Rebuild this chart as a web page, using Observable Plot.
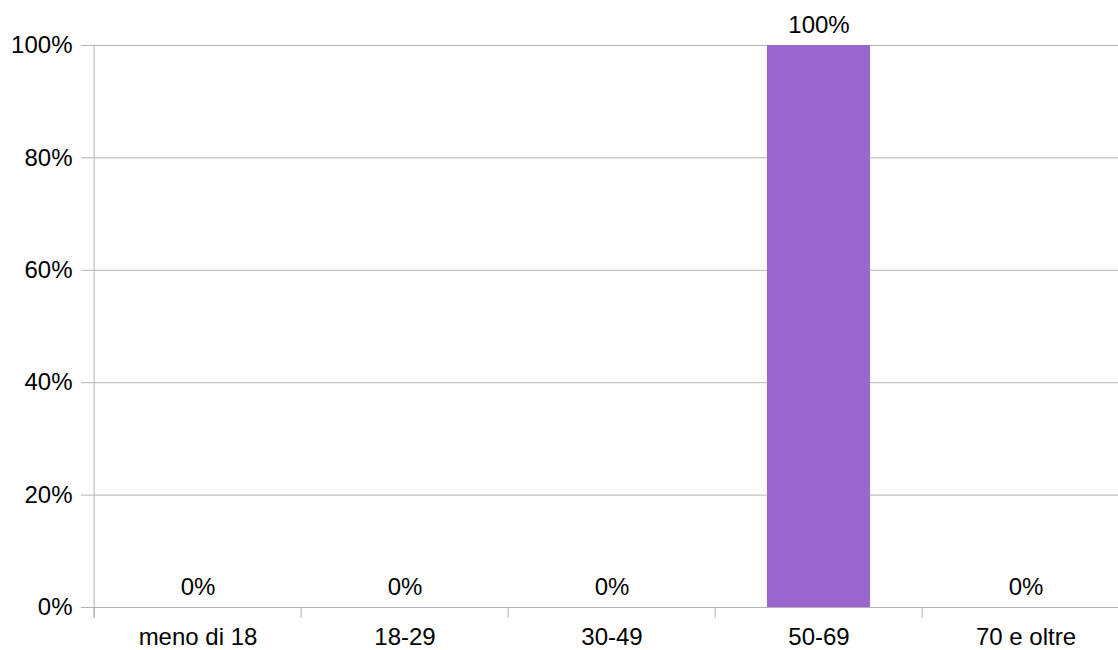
<!DOCTYPE html>
<html>
<head>
<meta charset="utf-8">
<script src="https://cdn.jsdelivr.net/npm/d3@7"></script>
<script src="https://cdn.jsdelivr.net/npm/@observablehq/plot@0.6"></script>
<style>
  html, body { margin: 0; padding: 0; overflow: hidden; background: #fff; }
  #chart { width: 1118px; height: 650px; overflow: hidden; }
  #chart svg { max-width: none !important; }
</style>
</head>
<body>
<div id="chart"></div>
<script>
const categories = ["meno di 18", "18-29", "30-49", "50-69", "70 e oltre"];
const values = [0, 0, 0, 1, 0];
const yTicks = [0, 0.2, 0.4, 0.6, 0.8, 1];

const data = categories.map((c, i) => ({category: c, value: values[i]}));

const W = 1131, H = 650, ML = 92, MR = 0, MT = 45, MB = 43;
const step = (W - ML - MR) / categories.length;
const grid = "#b3b3b3";
const pct = d3.format(".0%");

const chart = Plot.plot({
  width: W,
  height: H,
  marginLeft: ML,
  marginRight: MR,
  marginTop: MT,
  marginBottom: MB,
  style: {fontFamily: "'Liberation Sans', Arial, sans-serif", fontSize: "24px", color: "#000", background: "#fff", maxWidth: "none"},
  x: {domain: categories, padding: 0},
  y: {domain: [0, 1]},
  marks: [
    Plot.ruleY(yTicks, {y: d => d, stroke: grid, strokeWidth: 1, insetLeft: -11}),
    Plot.ruleX([categories[0]], {x: d => d, dx: -step / 2, y1: 1, y2: 0, stroke: grid, insetBottom: -11}),
    Plot.ruleX(categories, {x: d => d, dx: -step / 2, y1: 0, y2: 0, stroke: grid, insetBottom: -11}),
    Plot.barY(data, {x: "category", y: "value", fill: "#9966cc", insetLeft: step / 4, insetRight: step / 4}),
    Plot.text(data, {x: "category", y: "value", text: d => pct(d.value), dy: -20.5, fill: "#000", fontSize: 24}),
    Plot.axisY({ticks: yTicks, tickFormat: pct, tickSize: 0, tickPadding: 20, fontSize: 24, fill: "#000", label: null}),
    Plot.axisX({tickSize: 0, tickPadding: 20.5, fontSize: 24, fill: "#000", label: null})
  ]
});
document.getElementById("chart").appendChild(chart);
</script>
</body>
</html>
